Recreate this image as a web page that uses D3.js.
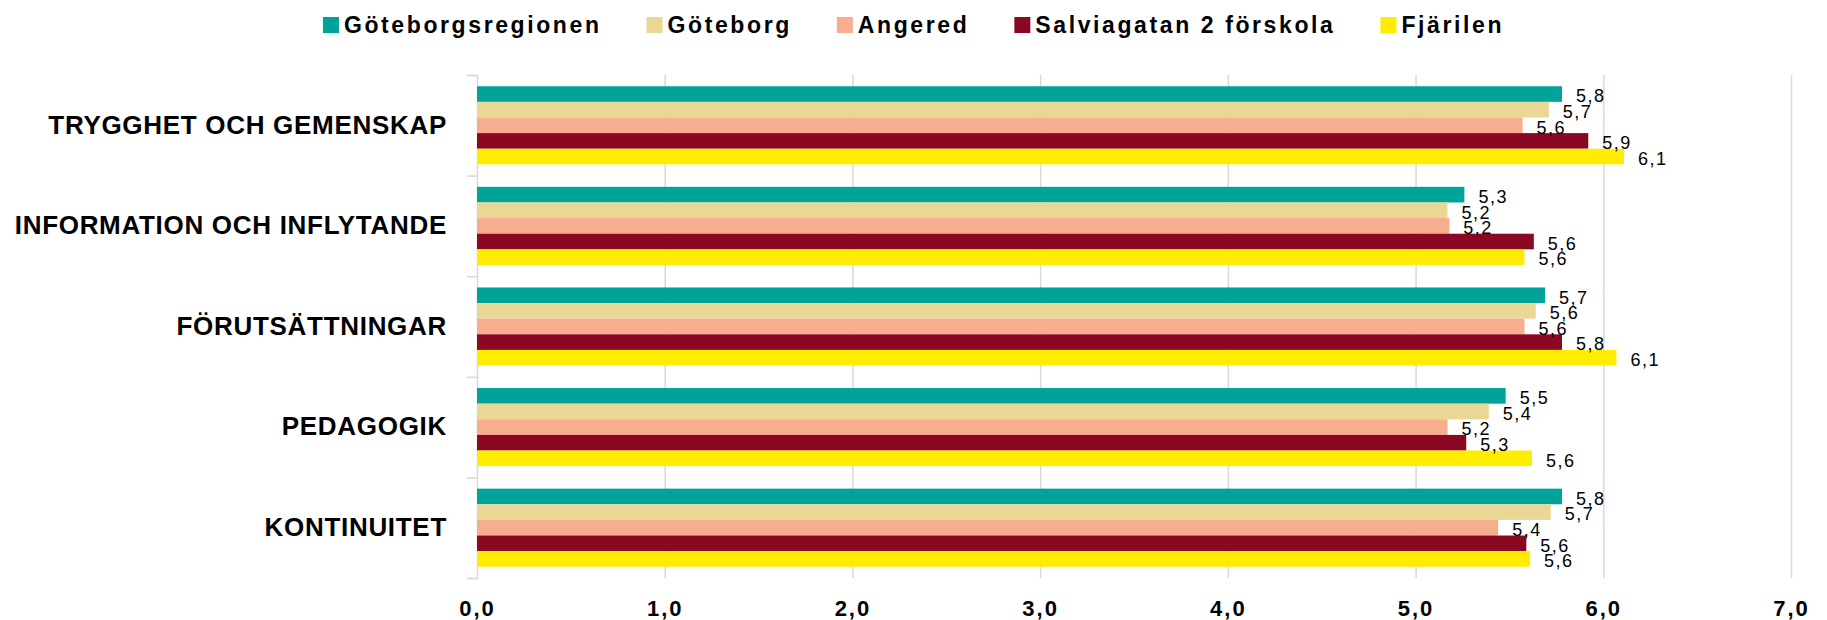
<!DOCTYPE html>
<html>
<head>
<meta charset="utf-8">
<script src="https://cdn.jsdelivr.net/npm/d3@7"></script>
<style>
  body { margin: 0; background: #fff; }
  svg { display: block; font-family: "Liberation Sans", Arial, sans-serif; }
  .grid line { stroke: #d9d9d9; stroke-width: 1.5; }
  .grid .domain { display: none; }
  .axis--x .domain { display: none; }
  .axis--x text { font-size: 22px; font-weight: bold; letter-spacing: 2px; fill: #000; }
  .axis--y .domain { display: none; }
  .axis--y text { font-size: 26px; font-weight: bold; letter-spacing: 0.7px; fill: #000; }
  .frame line, .frame path { stroke: #d9d9d9; stroke-width: 1.5; }
  .legend text { font-size: 23px; font-weight: bold; letter-spacing: 2.6px; fill: #000; }
  .labels text { font-size: 18px; letter-spacing: 1.5px; fill: #000; }
</style>
</head>
<body>
<svg width="1827" height="620"></svg>
<script>
var categories = ["TRYGGHET OCH GEMENSKAP", "INFORMATION OCH INFLYTANDE", "FÖRUTSÄTTNINGAR", "PEDAGOGIK", "KONTINUITET"];

var series = ["Göteborgsregionen", "Göteborg", "Angered", "Salviagatan 2 förskola", "Fjärilen"];

var colors = ["#00a39a", "#ead794", "#f6ae8f", "#8b0823", "#ffec00"];

// one array per series, in category order
var goteborgsregionen = [5.78, 5.26, 5.69, 5.48, 5.78],
    goteborg = [5.71, 5.17, 5.64, 5.39, 5.72],
    angered = [5.57, 5.18, 5.58, 5.17, 5.44],
    salviagatan = [5.92, 5.63, 5.78, 5.27, 5.59],
    fjarilen = [6.11, 5.58, 6.07, 5.62, 5.61];

var values = [goteborgsregionen, goteborg, angered, salviagatan, fjarilen];

var xTicks = [0, 1, 2, 3, 4, 5, 6, 7];

var svg = d3.select("svg"),
    margin = {top: 75, left: 477, bottom: 42, right: 36},
    width = +svg.attr("width") - margin.left - margin.right,
    height = +svg.attr("height") - margin.top - margin.bottom;

var sv = d3.formatLocale({decimal: ",", thousands: " ", grouping: [3], currency: ["", " kr"]}),
    fmt = sv.format(".1f");

var x = d3.scaleLinear()
    .domain([0, 7])
    .range([0, width]);

var y0 = d3.scaleBand()
    .domain(categories)
    .range([0, height]);

var y1 = d3.scaleBand()
    .domain(series)
    .range([0, y0.bandwidth()])
    .paddingOuter(0.72);

var color = d3.scaleOrdinal()
    .domain(series)
    .range(colors);

var g = svg.append("g")
    .attr("transform", "translate(" + margin.left + "," + margin.top + ")");

// vertical gridlines
g.append("g")
    .attr("class", "grid")
    .attr("transform", "translate(0," + height + ")")
    .call(d3.axisBottom(x).tickValues(xTicks.slice(1)).tickSize(-height).tickFormat(""));

// left axis line with ticks on the category boundaries
var yEdge = d3.scaleLinear()
    .domain([0, categories.length])
    .range([0, height]);

g.append("g")
    .attr("class", "frame")
    .call(d3.axisLeft(yEdge).ticks(categories.length).tickSize(10).tickSizeOuter(10).tickFormat(""));

g.append("g")
    .attr("class", "axis axis--y")
    .call(d3.axisLeft(y0).tickSize(0).tickPadding(30));

g.append("g")
    .attr("class", "axis axis--x")
    .attr("transform", "translate(0," + height + ")")
    .call(d3.axisBottom(x).tickValues(xTicks).tickSize(0).tickPadding(22).tickFormat(fmt));

var rows = [];
series.forEach(function(s, i) {
  categories.forEach(function(c, j) {
    rows.push({series: s, category: c, value: values[i][j]});
  });
});

g.append("g")
    .attr("class", "bars")
  .selectAll("rect")
    .data(rows)
  .enter().append("rect")
    .attr("x", x(0))
    .attr("y", function(d) { return y0(d.category) + y1(d.series); })
    .attr("width", function(d) { return x(d.value) - x(0); })
    .attr("height", y1.bandwidth())
    .attr("fill", function(d) { return color(d.series); });

g.append("g")
    .attr("class", "labels")
  .selectAll("text")
    .data(rows)
  .enter().append("text")
    .attr("x", function(d) { return x(d.value) + 14; })
    .attr("y", function(d) { return y0(d.category) + y1(d.series) + y1.bandwidth() / 2 + 2; })
    .attr("dy", "0.35em")
    .text(function(d) { return fmt(d.value); });

// legend, centred on the page
var legend = svg.append("g")
    .attr("class", "legend");

var item = legend.selectAll("g")
    .data(series)
  .enter().append("g");

item.append("rect")
    .attr("y", 17)
    .attr("width", 16)
    .attr("height", 16)
    .attr("fill", function(d) { return color(d); });

item.append("text")
    .attr("x", 21)
    .attr("y", 25)
    .attr("dy", "0.35em")
    .text(function(d) { return d; });

var offset = 0;
item.each(function() {
  var w = 21 + this.querySelector("text").getComputedTextLength();
  d3.select(this).attr("transform", "translate(" + offset + ",0)");
  offset += w + 45;
});
offset -= 45;
legend.attr("transform", "translate(" + ((+svg.attr("width") - offset) / 2) + ",0)");
</script>
</body>
</html>
